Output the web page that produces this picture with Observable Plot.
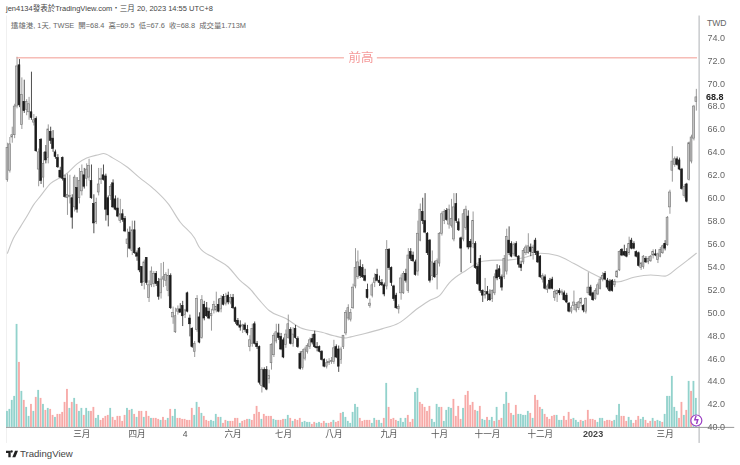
<!DOCTYPE html>
<html>
<head>
<meta charset="utf-8">
<script src="https://cdn.jsdelivr.net/npm/d3@7"></script>
<script src="https://cdn.jsdelivr.net/npm/@observablehq/plot@0.6"></script>
<style>
  html,body{margin:0;padding:0;background:#fff;}
  #wrap{position:relative;width:740px;height:465px;overflow:hidden;font-family:"Liberation Sans","Noto Sans CJK TC",sans-serif;}
  .t{position:absolute;white-space:pre;line-height:1;}
  #chart svg{filter:blur(0.25px);}
</style>
</head>
<body>
<div id="wrap">
  <div id="chart"></div>
  <div class="t" style="left:6px;top:5px;font-size:7.5px;color:#444">jen4134發表於TradingView.com・三月 20, 2023 14:55 UTC+8</div>
  <div class="t" style="left:11px;top:22px;font-size:7.4px;color:#666">遠雄港, 1天, TWSE  開=68.4  高=69.5  低=67.6  收=68.8  成交量1.713M</div>
  <div class="t" style="left:707px;top:19px;font-size:8.6px;color:#666">TWD</div>
  <svg style="position:absolute;left:6px;top:450px" width="12" height="8" viewBox="0 0 36 20"><path d="M0 0h14v20H7V7H0z M17 6a3.5 3.5 0 1 0 0-7 3.5 3.5 0 0 0 0 7z M27 0h9l-8 20h-9z" fill="#222"/></svg>
  <div class="t" style="left:20px;top:449px;font-size:9.6px;color:#444">TradingView</div>
</div>
<script>
// [open, high, low, close] per trading day
const candlesJanFeb = [
[61.6,64.8,61.4,64.4],[62.4,65.3,62.2,64.7],[65.3,66.2,64.8,65.5],[65.5,68.2,65.2,68.0],[68.0,72.3,67.8,71.5],
[71.6,72.1,67.9,68.1],[66.4,70.5,66.0,69.0],[68.4,70.3,67.4,67.6],[67.7,68.6,67.2,68.4],[67.5,68.8,66.8,68.2],
[67.5,71.0,66.8,67.0],[66.6,67.3,66.3,66.8],[66.9,67.1,64.0,64.1],[62.5,64.3,61.0,64.0],[65.1,65.2,61.2,61.5],
[61.8,64.0,60.9,63.0],[64.0,64.6,63.0,63.3],[63.5,66.4,63.0,66.0],[65.8,66.2,64.7,65.0],[65.2,65.9,64.0,64.3],
[64.0,64.2,63.4,63.6],[63.5,63.8,62.6,62.7],[62.4,62.7,61.7,61.8],[63.5,63.6,61.5,61.7],[61.7,62.0,60.0,60.1],
[60.0,62.1,58.5,60.3],[60.1,62.0,59.5,60.2],[60.0,60.3,57.3,58.3],[59.2,62.0,58.8,61.8],[60.9,61.8,58.7,59.0],
[60.0,62.6,59.5,61.5]];
const candlesMar = [
[60.6,62.9,60.2,62.3],[62.0,62.6,60.8,61.0],[61.7,63.0,61.0,62.5],[61.8,63.4,61.5,62.8],[61.5,62.9,59.9,60.0],
[59.5,60.3,56.9,57.8],[57.9,60.0,57.7,59.6],[60.5,62.6,60.2,61.2],[61.6,62.6,61.2,61.7],[62.0,62.9,61.5,61.6],
[61.9,62.1,58.0,59.0],[60.0,60.2,57.5,58.5],[60.2,61.2,59.8,61.0],[61.3,61.6,59.1,59.2],[59.9,60.2,58.9,59.0],
[59.1,60.0,58.3,58.4],[58.0,59.9,57.8,58.6],[58.6,59.0,57.9,58.1],[58.2,58.4,57.0,57.1],[56.0,57.3,54.8,56.4],
[57.0,57.5,55.5,55.6],[55.4,58.0,55.0,57.2],[57.2,58.0,55.1,55.2]];
const candlesApr = [
[55.2,55.4,54.5,54.9],[55.6,55.7,53.5,53.7],[54.0,54.0,52.3,52.6],[52.7,54.6,52.0,54.4],[54.8,54.8,52.4,52.6],
[51.3,52.8,50.9,52.4],[52.4,54.0,52.2,53.6],[52.5,53.6,52.2,53.4],[53.4,53.6,52.3,52.5],[52.7,53.0,51.1,51.4],
[51.7,54.3,51.2,52.9],[52.9,54.4,52.2,53.1],[52.8,53.5,52.3,53.3],[51.9,53.8,51.4,53.2],[53.2,53.4,50.3,50.4],
[49.6,50.5,49.0,50.0],[48.3,50.4,48.2,49.7],[50.1,50.6,49.8,50.3],[50.3,50.8,50.0,50.0],[50.6,51.0,48.8,49.7]];
const candlesMay = [
[49.8,50.3,49.5,50.2],[51.7,51.8,50.0,50.1],[49.5,49.8,47.9,49.0],[48.6,48.7,46.9,47.0],[46.6,47.5,46.1,47.3],
[48.5,51.5,48.3,51.2],[49.6,50.0,47.3,47.4],[47.8,51.5,47.7,51.1],[50.7,51.0,49.3,49.5],[50.4,50.9,49.6,49.7],
[50.1,50.4,49.4,49.5],[49.7,50.3,48.4,49.9],[50.2,51.0,49.9,50.7],[50.2,51.8,50.0,50.5],[50.7,51.2,50.0,50.1],
[50.3,51.5,50.0,51.2],[51.4,51.6,50.6,50.7],[50.8,51.7,50.6,51.4],[51.5,51.8,50.7,50.9],[50.9,51.6,50.7,51.3]];
const candlesJun = [
[51.3,51.6,50.3,50.4],[50.4,50.5,49.0,49.2],[49.3,49.5,48.8,48.9],[48.9,49.3,48.4,48.7],[48.8,49.0,48.2,48.9],
[48.9,49.1,48.3,48.5],[48.5,48.9,48.0,48.2],[47.0,48.0,46.6,47.6],[47.3,49.0,47.0,48.6],[49.0,49.2,47.2,47.3],
[47.3,47.5,46.8,47.0],[47.0,47.1,43.7,43.9],[43.6,45.2,43.0,45.0],[45.0,45.2,43.4,43.5],[45.0,45.3,43.2,43.3],
[44.2,45.0,43.8,44.5],[45.6,47.3,45.0,47.2],[46.3,48.2,46.1,48.0],[47.5,49.0,47.3,48.3],[48.2,49.0,47.6,47.8],
[47.9,48.2,46.7,46.8]];
const candlesJul = [
[47.6,47.8,46.0,46.1],[47.2,48.5,46.9,48.1],[47.8,49.8,47.7,49.0],[48.5,48.7,47.2,47.3],[47.3,48.7,47.0,48.1],
[48.6,48.9,47.7,47.8],[47.7,47.9,46.9,47.0],[46.4,46.6,45.0,45.1],[45.2,46.8,45.0,46.6],[46.0,47.0,45.8,46.8],
[46.6,47.3,46.4,47.1],[47.0,47.8,46.8,47.6],[47.7,48.1,47.2,47.4],[48.1,48.4,46.9,47.0],[47.0,47.4,46.6,46.9],
[47.0,47.1,46.5,46.6],[46.6,46.7,45.8,45.9],[45.9,46.0,45.2,45.3],[45.3,45.9,45.1,45.6],[45.6,46.0,45.4,45.7],
[45.7,46.1,45.5,45.8]];
const candlesAug = [
[45.7,47.6,45.5,46.9],[47.0,47.2,46.0,46.1],[46.8,47.1,44.8,45.3],[45.9,47.0,45.5,46.8],[47.0,48.0,46.8,48.0],
[48.2,50.2,48.0,50.0],[49.5,50.7,49.3,50.4],[49.4,50.3,49.2,50.0],[50.4,52.5,50.3,52.2],[52.3,55.6,52.1,53.9],
[53.1,55.4,52.9,54.4],[54.0,54.6,53.0,53.2],[53.9,54.2,53.0,53.1],[53.2,53.8,52.7,52.8],[52.0,52.5,51.2,51.3],
[50.6,51.2,50.4,50.8],[51.5,52.6,51.3,52.4],[52.6,53.4,52.2,53.0],[53.3,53.8,52.7,52.8],[52.8,53.2,52.3,52.6],
[52.6,52.9,52.3,52.4],[52.4,52.6,51.4,51.6]];
const candlesSep = [
[52.3,56.3,52.0,55.5],[55.5,55.6,53.7,53.9],[53.9,54.0,52.3,52.6],[52.3,52.4,51.0,51.2],[51.5,51.7,50.3,50.4],
[50.3,50.7,49.9,50.5],[51.7,53.3,51.1,53.0],[51.7,53.6,51.6,53.4],[53.4,53.8,52.6,52.8],[51.9,55.6,51.7,55.0],
[55.3,55.6,54.5,54.7],[55.0,55.3,54.4,54.5],[54.4,54.6,53.2,53.3],[53.6,58.0,53.2,56.9],[56.3,59.5,56.2,59.0],
[58.8,60.0,57.7,58.0],[58.0,60.4,56.9,57.0],[56.9,57.0,55.0,55.2],[56.3,56.4,52.6,52.8],[53.2,55.4,52.8,54.4],
[54.3,54.5,53.0,53.1],[53.3,54.7,52.0,54.5]];
const candlesOct = [
[54.3,57.0,54.0,56.9],[56.9,58.8,56.7,58.6],[58.0,59.0,57.7,58.8],[58.9,59.1,58.0,58.1],[57.7,59.4,57.3,59.0],
[57.6,59.9,57.4,58.2],[56.4,60.4,56.2,59.2],[59.5,60.4,57.8,58.0],[57.9,58.2,57.1,57.2],[56.5,56.6,53.5,55.6],
[56.4,59.0,56.2,58.6],[57.4,59.3,57.2,59.0],[58.4,58.9,55.5,55.7],[56.2,56.4,54.3,55.7],[56.0,58.8,55.6,58.0],
[56.0,56.2,53.8,53.9],[54.0,54.2,52.4,52.5],[54.7,55.0,51.7,51.9],[51.9,52.0,50.9,51.5],[51.5,53.0,51.2,51.8]];
const candlesNov = [
[51.8,52.3,51.0,51.6],[51.6,52.0,51.0,51.1],[51.2,52.0,50.9,51.9],[51.7,53.4,51.5,53.1],[53.7,54.2,52.8,53.0],
[53.8,54.1,52.9,53.1],[53.1,53.3,51.9,52.2],[53.1,55.0,52.9,54.7],[53.6,57.3,53.3,56.6],[56.3,57.5,55.0,55.2],
[56.0,56.2,54.8,54.9],[55.1,56.1,54.9,55.9],[56.0,56.2,54.8,54.9],[54.9,55.0,53.9,54.2],[54.2,54.5,53.6,53.9],
[54.4,55.6,54.2,55.4],[55.2,55.9,55.0,55.7],[55.2,56.9,55.1,55.8],[55.7,56.0,54.9,55.3],[55.2,55.9,54.6,55.7],
[56.3,56.5,55.0,55.2],[55.3,55.4,54.3,54.4]];
const candlesDec = [
[54.9,55.0,53.0,53.1],[52.9,53.4,52.6,53.2],[53.1,53.3,52.0,52.1],[52.0,52.5,51.7,52.3],[52.8,53.0,52.0,52.1],
[52.9,53.1,52.0,52.1],[51.3,52.0,51.0,51.8],[51.6,52.0,50.9,51.9],[51.9,52.1,51.5,51.7],[51.7,52.0,51.5,51.8],
[51.7,51.9,51.0,51.1],[51.5,51.7,50.8,50.9],[50.8,50.9,50.0,50.1],[50.1,50.6,49.9,50.4],[50.6,51.9,50.2,50.9],
[50.2,50.9,50.0,50.7],[50.4,51.0,50.2,50.9],[50.8,51.3,50.5,51.2],[50.6,50.7,50.0,50.2],[50.1,51.3,49.9,51.2],
[51.7,53.5,51.5,52.2],[52.2,52.4,51.4,51.5]];
const candlesJan23 = [
[51.7,51.8,51.0,51.1],[51.2,52.1,51.1,51.9],[51.6,52.6,51.5,52.4],[52.1,53.1,52.0,52.9],[52.9,53.5,52.7,53.2],
[53.4,53.6,52.8,52.9],[52.8,53.0,52.0,52.2],[52.7,52.9,51.8,51.9],[52.8,52.9,51.8,51.9],[52.4,52.9,52.2,52.7],
[53.1,53.7,53.0,53.6],[53.7,55.4,53.6,55.3],[55.5,55.6,54.9,55.0],[55.3,55.9,54.9,55.0],[55.3,55.6,54.8,54.9]];
const candlesFeb23 = [
[55.2,56.6,55.0,56.0],[56.3,56.5,55.5,55.6],[56.0,56.2,55.5,55.6],[55.3,55.4,54.8,54.9],[55.2,55.3,54.0,54.1],
[53.9,54.4,53.7,54.3],[54.0,55.0,53.8,54.9],[54.7,54.9,54.3,54.4],[54.4,54.9,54.2,54.7],[54.5,55.0,54.4,54.9],
[55.0,55.5,54.7,55.3],[55.1,55.5,54.9,55.0],[54.6,55.2,54.3,55.1],[54.9,55.7,54.8,55.5],[55.2,55.9,55.1,55.8]];
const candlesMar23 = [
[56.0,56.3,55.4,55.6],[55.9,58.4,55.8,58.3],[59.2,60.7,58.6,60.5],[62.4,64.5,61.4,63.2],[62.9,63.6,62.7,63.4],
[63.4,63.6,62.8,62.9],[63.3,63.5,62.4,62.5],[62.5,62.6,60.7,60.8],[60.2,61.2,60.0,61.0],[61.2,61.3,59.6,59.7],
[61.6,64.9,61.5,64.8],[63.2,65.5,63.0,65.3],[65.2,68.1,65.0,68.0],[68.4,69.5,67.6,68.8]];

// Volume in units of 60k shares; positive = teal bar, negative = pink bar
const volumes2022H1 = [
16,18,27,31,103,-65,36,-27,20,11,-23,16,-30,37,-29,23,-17,19,-18,-12,10,-13,-13,-15,-25,-38,19,-25,29,-23,
16,19,-12,19,16,-16,-20,9,12,-7,-9,-11,-12,19,-10,-7,-11,-11,-6,-12,19,-17,18,-13,10,-16,-16,10,-16,-11,
9,-9,-9,-8,7,-10,-7,9,-18,11,18,-9,-9,-8,-8,-7,-7,-19,12,25,-20,14,-11,-7,-6,7,6,13,-10,10,
-4,-7,6,-6,-6,-9,-9,4,-6,-7,-8,8,-7,-13,-21,-15,8,-13,-11,-11,-11,8,7,-7,-7,-8];
const volumes2022H2 = [
8,12,-9,6,-8,-7,-9,5,6,5,5,-3,-5,4,5,-4,-6,4,-4,-5,
7,-5,-6,-14,15,10,6,4,15,23,20,-9,-6,-7,-7,-7,4,9,-7,7,4,-9,
44,-20,-8,-9,-7,6,9,5,9,-12,-5,-8,35,39,-25,-23,-20,-16,-21,8,5,23,
20,-20,6,17,20,19,-28,-11,-21,-8,19,-32,-36,-22,-25,-17,16,-21,8,7,
-10,7,10,-6,20,-7,-9,23,35,-24,-14,12,-22,13,13,12,12,16,-14,9,-32,-27,
-20,18,-13,-10,-8,-11,-12,12,7,7,-11,-7,-15,-8,9,7,5,-7,6,-7,-17,-8];
const volumes2023 = [
-8,-7,5,9,9,-6,-7,-7,-6,7,12,23,-11,-11,-6,10,7,-4,-7,-11,8,10,-7,-4,-6,9,-6,7,6,-5,
13,31,31,51,20,16,-9,-25,12,-17,46,-36,46,29];

// Moving average, sampled along the curve
const maIndex = [0,2.5,5.4,8.3,10.8,13.8,18,22,25,29,33,38,40,44,50,55,61,67,72,78,80,86,92,97,101,105,109,116,122,131,136,141,143,149,156,163,171,176,180,184,191,198,205,208,215,222,229,236,243,248,254,261,268,274,279,284,287];
const maValue = [55.2,56.5,57.5,58.5,59.4,60.2,61.3,61.8,62.2,63.0,63.5,63.8,63.9,63.5,62.7,61.8,60.8,59.5,57.9,56.5,55.7,54.8,54.0,52.8,52.1,51.1,50.2,49.5,48.7,48.3,48.0,47.8,47.9,48.2,48.6,49.1,50.4,51.1,51.5,52.6,53.7,54.5,54.6,54.6,54.8,55.2,55.0,54.3,53.5,53.0,52.7,53.1,53.3,53.2,53.9,54.7,55.2];

const tickIndex = [31,54,74,94,115,136,159,180,200,222,274];
const tickLabels = ["三月","四月","4","六月","七月","八月","九月","十月","十一月","十二月","三月"];
const boldTickIndex = [244];
const boldTickLabels = ["2023"];
const priceTicks = [40,42,44,46,48,50,52,54,56,58,60,62,64,66,68,70,72,74];
const previousHigh = 72.25;
const previousHighLabel = "前高";
const lastClose = 68.8;

const candles = [...candlesJanFeb,...candlesMar,...candlesApr,...candlesMay,...candlesJun,...candlesJul,...candlesAug,
  ...candlesSep,...candlesOct,...candlesNov,...candlesDec,...candlesJan23,...candlesFeb23,...candlesMar23]
  .map(([o,h,l,c],i)=>({i,o,h,l,c,up:c>=o}));
const volumes = [...volumes2022H1,...volumes2022H2,...volumes2023].map((v,i)=>({i,v:Math.abs(v),up:v>0}));
const ma = maIndex.map((i,k)=>({i,p:maValue[k]}));
const last = candles.length-1;

const volTop = d => 40 + d.v/11.46;   // one volume unit draws as one price-scale pixel
const axisX = last + 1.15;            // right price axis position, in bar units
const halfBar = 0.38;

const plot = Plot.plot({
  width:740, height:465,
  marginLeft:6, marginRight:40, marginTop:0, marginBottom:38,
  style:{fontFamily:'"Liberation Sans","Noto Sans CJK TC",sans-serif',background:"transparent"},
  x:{type:"linear",domain:[-0.4,287.9],range:[6,698]},
  y:{type:"linear",domain:[40,74],range:[426.9,37.3]},
  marks:[
    Plot.ruleX([-0.4],{y1:38.6,y2:75.9,stroke:"#f0f0f0",strokeWidth:1}),
    Plot.ruleX([axisX],{y1:38.6,y2:75.9,stroke:"#aeb0b4",strokeWidth:1}),
    Plot.rect(volumes,{x1:d=>d.i-halfBar,x2:d=>d.i+halfBar,y1:40,y2:volTop,fill:d=>d.up?"#92d2cc":"#f7a9a7"}),
    Plot.ruleY([40],{x1:-0.4,x2:303,stroke:"#999",strokeWidth:1}),
    Plot.line(ma,{x:"i",y:"p",stroke:"#c6c6c6",strokeWidth:1.1,curve:"monotone-x"}),
    Plot.ruleX(candles,{x:"i",y1:"l",y2:"h",stroke:d=>d.up?"#808080":"#222",strokeWidth:0.8}),
    Plot.rect(candles,{x1:d=>d.i-halfBar,x2:d=>d.i+halfBar,y1:"o",y2:"c",
      fill:d=>d.up?"#c4c4c4":"#1c1c1c",stroke:d=>d.up?"#777":"#1c1c1c",strokeWidth:0.6}),
    Plot.ruleY([previousHigh],{x1:4,x2:140.4,stroke:"#f29a92",strokeWidth:1}),
    Plot.ruleY([previousHigh],{x1:154.1,x2:287.5,stroke:"#f29a92",strokeWidth:1}),
    Plot.text([previousHighLabel],{x:147.3,y:previousHigh,fill:"#f59a9a",fontSize:12.5}),
    Plot.axisY({anchor:"right",ticks:priceTicks,tickSize:0,tickPadding:7,tickFormat:d3.format(".1f"),fontSize:9,fill:"#666",label:null}),
    Plot.text([lastClose],{x:axisX,y:d=>d,text:d=>d.toFixed(1),dx:7,textAnchor:"start",fontSize:9,fontWeight:"bold",fill:"#222"}),
    Plot.axisX({ticks:tickIndex,tickFormat:(d)=>tickLabels[tickIndex.indexOf(d)],tickSize:0,tickPadding:3,fontSize:8.6,fill:"#555",label:null}),
    Plot.axisX({ticks:boldTickIndex,tickFormat:()=>boldTickLabels[0],tickSize:0,tickPadding:3,fontSize:9,fontWeight:"bold",fill:"#444",label:null}),
    Plot.dot([last],{x:d=>d,y:40.6,r:5.5,fill:"#fff",stroke:"#9c3fc4",strokeWidth:1.2}),
    Plot.text(["ϟ"],{x:last,y:40.6,fill:"#9c3fc4",fontSize:10,fontWeight:"bold",fontFamily:"DejaVu Sans"})
  ]
});
document.getElementById("chart").appendChild(plot);
</script>
</body>
</html>
